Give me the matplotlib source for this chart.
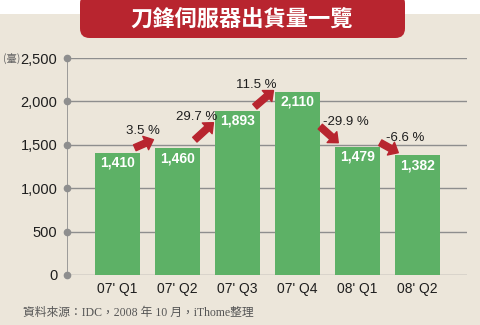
import matplotlib.pyplot as plt
from matplotlib.patches import FancyBboxPatch, Rectangle
import numpy as np

# blade server shipments per quarter (units)
quarters = ["07' Q1", "07' Q2", "07' Q3", "07' Q4", "08' Q1", "08' Q2"]
shipments = [1410, 1460, 1893, 2110, 1479, 1382]
yticks = [0, 500, 1000, 1500, 2000, 2500]

# arrow tail / head heights between neighbouring bars
arrow_tail_y = [1466, 1559, 1940, 1709, 1524]
arrow_head_y = [1559, 1755, 2125, 1524, 1409]

bg = '#ECE6DA'
green = '#5DB166'
red = '#B8252F'
grid = '#8E8E8E'

fig = plt.figure(figsize=(4.8, 3.25), dpi=100)
fig.patch.set_facecolor(bg)
# white strip along the top edge
fig.patches.append(Rectangle((0, 1 - 14/325), 1, 14/325, transform=fig.transFigure,
                             facecolor='white', edgecolor='none', zorder=0))
# title banner
fig.patches.append(FancyBboxPatch((80/480, 1 - 38/325), 325/480, 44/325,
                                  boxstyle='round,pad=0,rounding_size=0.02',
                                  transform=fig.transFigure, facecolor=red,
                                  edgecolor='none', zorder=1, mutation_aspect=480/325))
fig.text(242/480, 1 - 19/325, '刀鋒伺服器出貨量一覽', color='white', fontsize=16,
         fontweight='bold', family=['Noto Sans CJK TC'], ha='center', va='center')

ax = fig.add_axes([67/480, 1 - 275/325, 400/480, 217/325])
ax.set_facecolor(bg)
x = np.arange(len(quarters))
ax.bar(x, shipments, width=0.75, color=green, zorder=2)
ax.set_xlim(-0.84, 5.825)
ax.set_ylim(0, 2500)

for y in yticks:
    ax.axhline(y, color=grid, lw=1, zorder=1)
    ax.plot(-0.84, y, 'o', color=grid, ms=4.5, clip_on=False, zorder=3)
for s in ax.spines.values():
    s.set_visible(False)
ax.axvline(-0.84, color=grid, lw=1.2, zorder=1)

ax.set_yticks(yticks)
ax.set_yticklabels([f'{v:,}' for v in yticks], fontsize=10.5, color='#1E1E1E',
                   family='Liberation Sans')
ax.tick_params(axis='y', length=0, pad=7)
ax.set_xticks(x)
ax.set_xticklabels(quarters, fontsize=10, color='#1E1E1E', family='Liberation Sans')
ax.tick_params(axis='x', length=0, pad=5)

fig.text(3/480, 1 - 58/325, '(臺)', fontsize=7.5, color='#666666',
         family=['Noto Sans CJK TC'], va='center', ha='left')

# values inside the bars
for xi, v in zip(x, shipments):
    ax.text(xi, v - 115, f'{v:,}', color='white', fontsize=10, fontweight='bold',
            family=['Liberation Sans Narrow', 'Liberation Sans'],
            ha='center', va='center', zorder=4)

# growth arrows with percent change
for i in range(len(shipments) - 1):
    pct = (shipments[i + 1] / shipments[i] - 1) * 100
    up = pct > 0
    if up:
        x0, x1 = i + 0.29, i + 0.6
    else:
        x0, x1 = i + 0.38, i + 0.68
    ax.annotate('', xy=(x1, arrow_head_y[i]), xytext=(x0, arrow_tail_y[i]),
                arrowprops=dict(arrowstyle='simple,head_length=0.55,head_width=0.95,tail_width=0.42',
                                color=red, shrinkA=0, shrinkB=0, mutation_scale=11),
                zorder=5)
    if up:
        lx = (x0 + x1) / 2 - 0.02 if i == 0 else x0 + 0.03
        ly = arrow_head_y[i] + (105 if i == 0 else 60)
    else:
        lx, ly = x0 + 0.42, arrow_tail_y[i] + 55
    ax.text(lx, ly, f'{pct:.1f} %', fontsize=9.5, color='#1E1E1E',
            family='Liberation Sans', ha='center', va='center', zorder=5)

fig.text(23/480, 1 - 313/325, '資料來源：IDC，2008 年 10 月，iThome整理', fontsize=8.5,
         color='#555555', family=['Liberation Serif', 'Noto Sans CJK TC'],
         ha='left', va='center')

fig.savefig('out.png', dpi=100, facecolor=bg)
